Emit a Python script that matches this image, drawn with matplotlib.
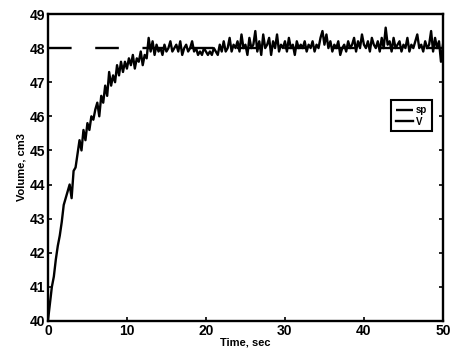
import numpy as np
import matplotlib
matplotlib.use("Agg")
import matplotlib.pyplot as plt

time_s = np.linspace(0, 50, 201)
volume = [
    40.0, 40.5, 41.0, 41.3, 41.8, 42.2, 42.5, 42.9, 43.4,
    43.6, 43.8, 44.0, 43.6, 44.4, 44.5, 44.9, 45.3,
    45.0, 45.6, 45.3, 45.8, 45.6, 46.0, 45.9, 46.2,
    46.4, 46.0, 46.6, 46.4, 46.9, 46.6, 47.3, 46.9,
    47.2, 47.0, 47.5, 47.2, 47.6, 47.3, 47.6, 47.4,
    47.7, 47.5, 47.8, 47.4, 47.7, 47.6, 47.9, 47.5,
    47.8, 47.7, 48.3, 47.9, 48.2, 47.8, 48.1, 47.9,
    48.0, 47.8, 48.1, 47.9, 48.0, 48.2, 47.9, 48.0,
    48.1, 47.9, 48.2, 47.8, 48.0, 48.1, 47.9, 48.0,
    48.2, 47.9, 48.0, 47.8, 47.9, 47.8, 48.0, 47.9,
    47.8, 47.9, 47.8, 48.0, 47.9, 47.8, 48.1, 47.9,
    48.2, 47.9, 48.0, 48.3, 47.9, 48.1, 48.0, 48.2,
    47.9, 48.4, 48.0, 48.1, 47.8, 48.3, 48.0, 48.1,
    48.5, 47.9, 48.2, 47.8, 48.4, 48.0, 48.1, 48.3,
    47.8, 48.2, 48.0, 48.4, 47.9, 48.1, 48.0, 48.2,
    47.9, 48.3, 48.0, 48.1, 47.8, 48.2, 48.0, 48.1,
    48.0, 48.2, 47.9, 48.1, 48.0, 48.2, 47.9, 48.1,
    48.0, 48.3, 48.5, 48.1, 48.4, 48.0, 48.2, 47.9,
    48.1, 48.0, 48.2, 47.8, 48.0, 48.1, 47.9, 48.2,
    48.0, 48.1, 48.3, 47.9, 48.2, 48.0, 48.4, 48.1,
    48.0, 48.2, 47.9, 48.3, 48.1, 48.0, 48.2, 47.9,
    48.3, 48.0, 48.6, 48.1, 48.2, 47.9, 48.3, 48.0,
    48.1, 48.2, 47.9, 48.1, 48.0, 48.3, 47.9, 48.1,
    48.0, 48.2, 48.4, 48.0, 48.1, 47.9, 48.2, 48.0,
    48.1, 48.5, 47.9, 48.3, 48.0, 48.2, 47.6, 48.1,
]
setpoint_t = [0, 50]
setpoint_v = [48, 48]

plt.rcParams["font.family"] = ["Liberation Sans", "DejaVu Sans"]
plt.rcParams["font.weight"] = "bold"

fig = plt.figure(figsize=(4.52, 3.59), dpi=100)
ax = fig.add_axes([0.106, 0.106, 0.874, 0.855])

ax.plot(setpoint_t, setpoint_v, color="black", lw=1.7, ls=(0, (10, 10)), label="sp")
ax.plot(time_s, volume, color="black", lw=1.7, label="V")

ax.set_xlim(0, 50)
ax.set_ylim(40, 49)
ax.set_xticks([0, 10, 20, 30, 40, 50])
ax.set_yticks(range(40, 50))
ax.tick_params(direction="in", length=3, width=1.2, labelsize=10, pad=2,
               right=True, top=False)
for s in ax.spines.values():
    s.set_linewidth(1.7)

ax.set_xlabel("Time, sec", fontsize=8, fontweight="bold", labelpad=0)
ax.set_ylabel("Volume, cm3", fontsize=8, fontweight="bold", labelpad=2)

leg = ax.legend(loc="upper right", bbox_to_anchor=(0.985, 0.735), fontsize=7,
                handlelength=1.8, labelspacing=0.15, borderpad=0.5,
                handletextpad=0.3, fancybox=False, framealpha=1)
leg.get_frame().set_edgecolor("black")
leg.get_frame().set_linewidth(1.5)

fig.savefig("out.png", dpi=100)
